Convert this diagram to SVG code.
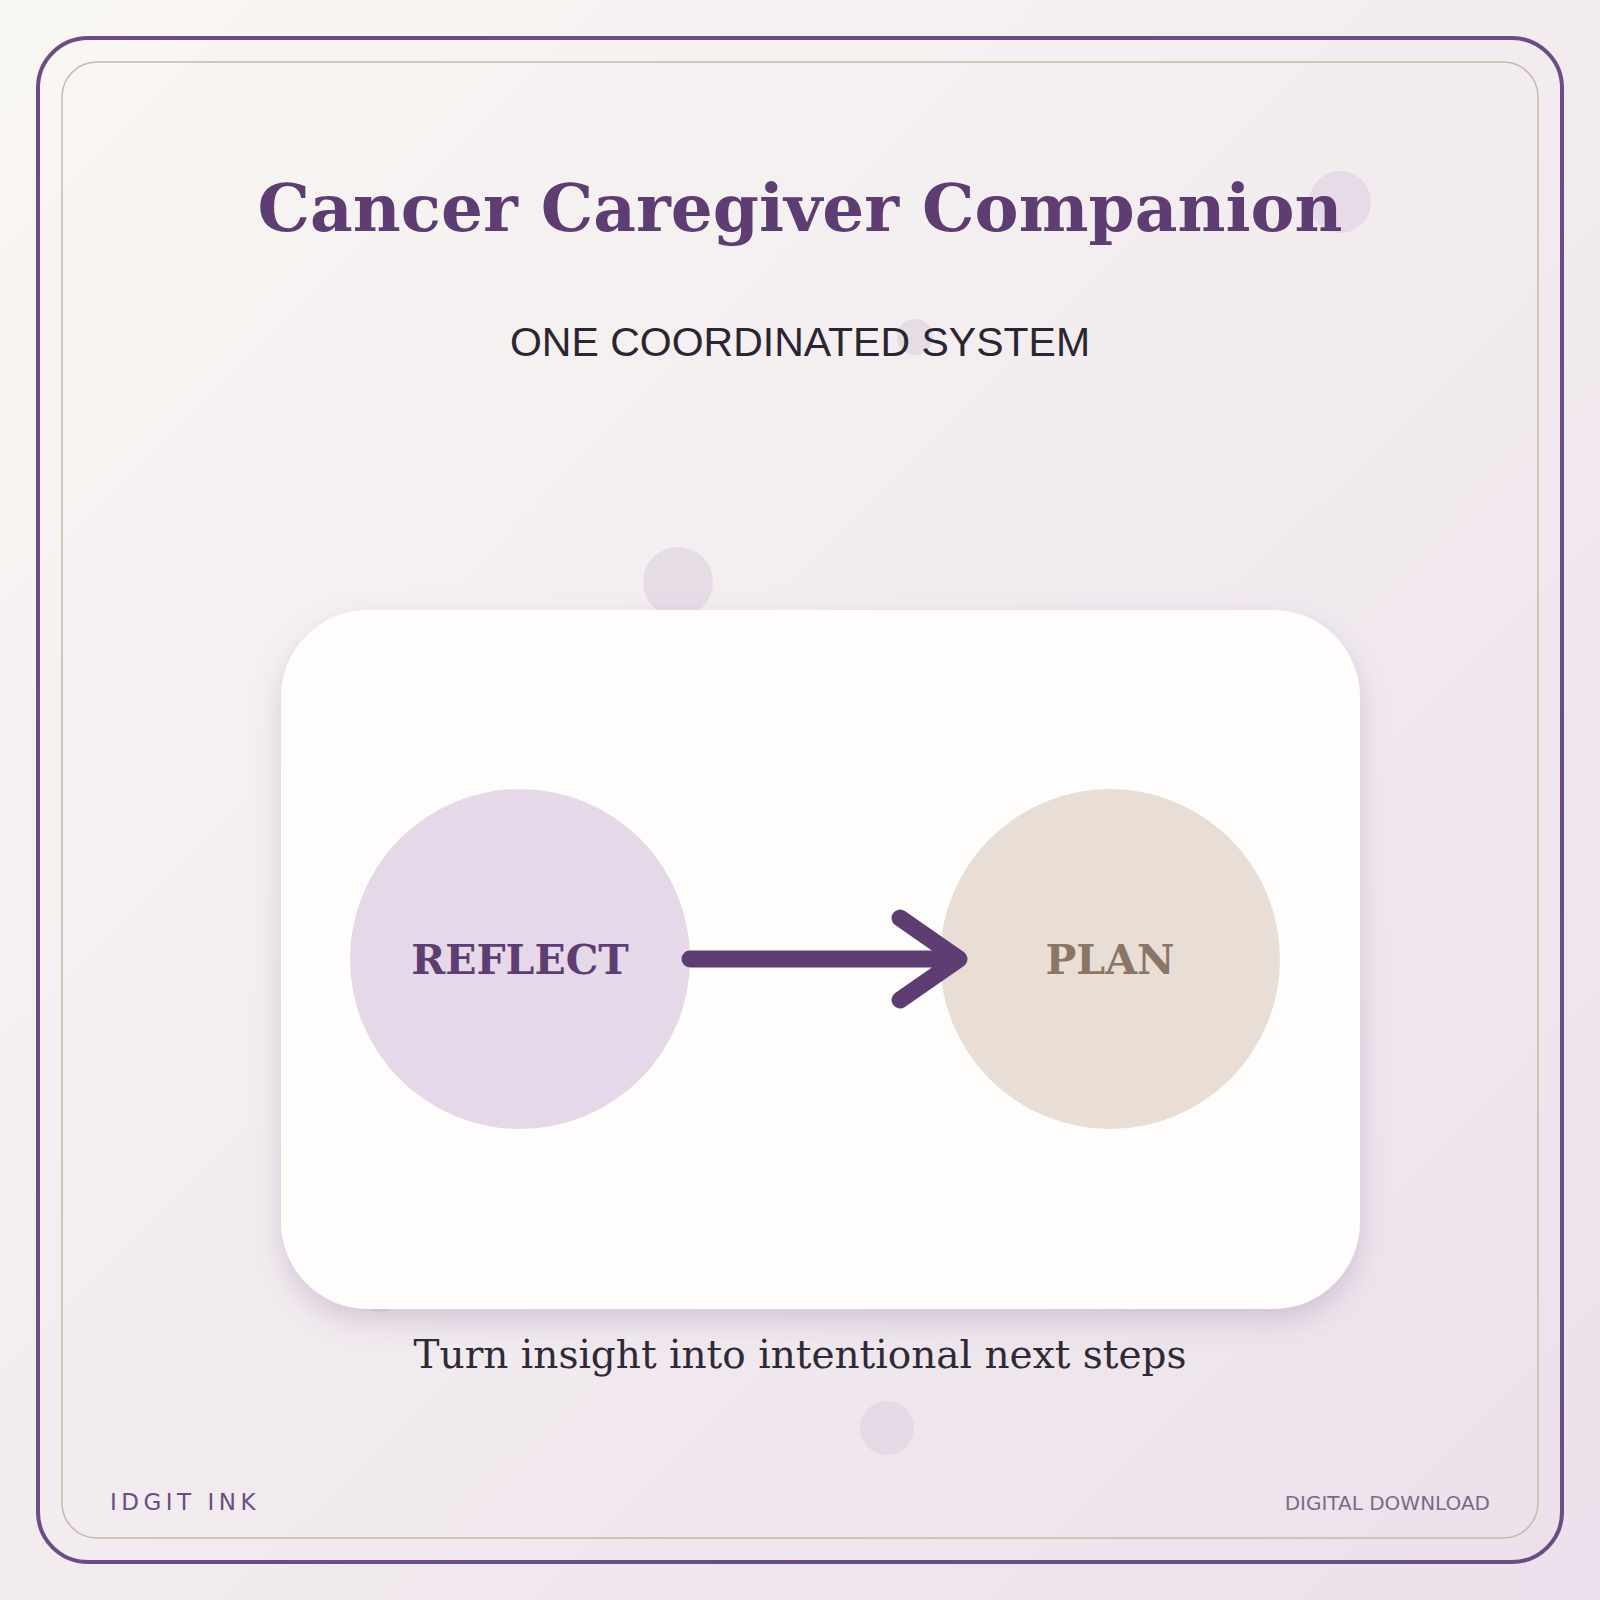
<svg xmlns="http://www.w3.org/2000/svg" width="1600" height="1600" viewBox="0 0 1600 1600">
<defs>
<linearGradient id="bg" x1="0" y1="0" x2="1" y2="1"><stop offset="0" stop-color="#f9f7f3"/><stop offset="1" stop-color="#ebe0eb"/></linearGradient>
<filter id="sh" x="-10%" y="-10%" width="120%" height="125%"><feDropShadow dx="0" dy="12" stdDeviation="14" flood-color="#8a6a9a" flood-opacity="0.28"/></filter>
<style>
.deco{fill:#ddd0e0;opacity:0.6}
.serif{font-family:"DejaVu Serif","Liberation Serif",serif}
.sans{font-family:"Liberation Sans",Arial,sans-serif}
.dsans{font-family:"DejaVu Sans",sans-serif}
.conn{stroke:#5e3d72;stroke-width:17;stroke-linecap:round;stroke-linejoin:round;fill:none}
</style>
</defs>
<rect width="1600" height="1600" fill="url(#bg)"/>
<rect x="38" y="38" width="1524" height="1524" rx="50" fill="none" stroke="#6b4c85" stroke-width="4"/>
<rect x="62" y="62" width="1476" height="1476" rx="35" fill="none" stroke="#c8b8a8" stroke-width="1.5"/>
<g id="decor">
<circle class="deco" cx="1340" cy="202" r="31"/>
<circle class="deco" cx="915" cy="337" r="18"/>
<circle class="deco" cx="678" cy="582" r="35"/>
<circle class="deco" cx="887" cy="1428" r="27"/>
<circle class="deco" cx="380" cy="1290" r="22"/>
</g>
<text class="serif" x="800" y="231" text-anchor="middle" font-size="66" font-weight="bold" fill="#5e3d72">Cancer Caregiver Companion</text>
<text class="sans" x="800" y="356" text-anchor="middle" font-size="41" fill="#2a2530">ONE COORDINATED SYSTEM</text>
<rect id="card" x="281" y="610" width="1079" height="699" rx="87" fill="#fffdfb" filter="url(#sh)"/>
<g id="reflect"><circle cx="520" cy="959" r="170" fill="#e5d9e9"/><text class="serif" x="520" y="974" text-anchor="middle" font-size="41" font-weight="bold" fill="#5e3d72">REFLECT</text></g>
<g id="plan"><circle cx="1110" cy="959" r="170" fill="#e8ded5"/><text class="serif" x="1110" y="974" text-anchor="middle" font-size="41" font-weight="bold" fill="#8a7566">PLAN</text></g>
<g id="connectors"><path class="conn" d="M690 959 H957 M900 918 L959 959 L900 1000"/></g>
<text class="serif" x="800" y="1368" text-anchor="middle" font-size="39" fill="#2f2a35">Turn insight into intentional next steps</text>
<text class="dsans" x="110" y="1510" font-size="23" letter-spacing="4.5" fill="#6b4c85">IDGIT INK</text>
<text class="dsans" x="1490" y="1510" text-anchor="end" font-size="20" fill="#7a6a85">DIGITAL DOWNLOAD</text>
</svg>
